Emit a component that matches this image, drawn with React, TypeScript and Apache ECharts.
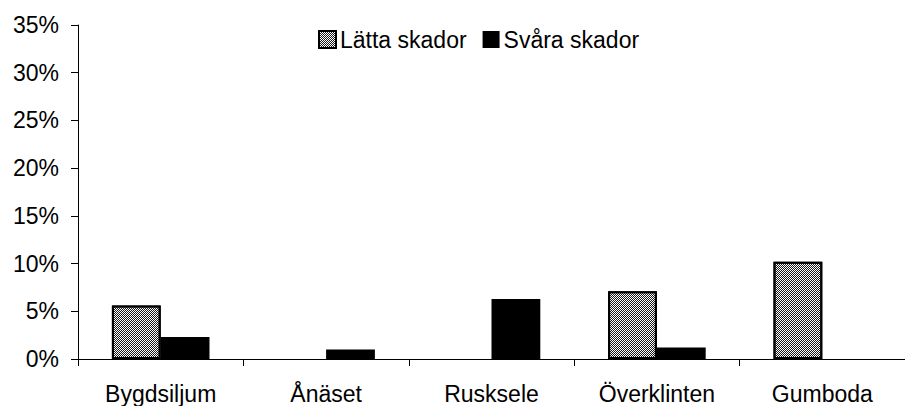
import React, { useEffect, useRef } from "react";
import * as echarts from "echarts";

const categories = ["Bygdsiljum", "Ånäset", "Rusksele", "Överklinten", "Gumboda"];
const seriesNames = ["Lätta skador", "Svåra skador"];
const lattaValues = [5.6, 0, 0, 7.1, 10.2];
const svaraValues = [2.3, 1.0, 6.3, 1.2, 0];
const yMax = 35;
const yInterval = 5;

const FONT = "'Liberation Sans', Arial, sans-serif";

export default function App() {
  const ref = useRef<HTMLDivElement>(null);
  useEffect(() => {
    if (!ref.current) return;
    const chart = echarts.init(ref.current, null, { renderer: "svg" });
    const decal = {
      symbol: "rect",
      symbolSize: 1,
      color: "#1a1a1a",
      dashArrayX: [[1, 1], [0, 1, 1, 0]],
      dashArrayY: [1, 0],
      rotation: 0,
    };
    chart.setOption({
      animation: false,
      backgroundColor: "#fff",
      textStyle: { fontFamily: FONT, color: "#000" },
      legend: {
        top: 23,
        left: 313,
        itemWidth: 17,
        itemHeight: 17,
        itemGap: 16,
        icon: "rect",
        textStyle: { fontFamily: FONT, fontSize: 23, color: "#000", padding: [0, 0, 0, -1] },
        data: seriesNames,
      },
      grid: { left: 78, top: 25, bottom: 47, right: -12, containLabel: false },
      xAxis: {
        type: "category",
        data: categories,
        boundaryGap: true,
        axisLine: { lineStyle: { color: "#000", width: 1 } },
        axisTick: { show: true, length: 7, lineStyle: { color: "#000" } },
        axisLabel: { color: "#000", fontFamily: FONT, fontSize: 23, margin: 23, interval: 0 },
      },
      yAxis: {
        type: "value",
        min: 0,
        max: yMax,
        interval: yInterval,
        axisLine: { show: true, lineStyle: { color: "#000", width: 1 } },
        axisTick: { show: true, length: 7, lineStyle: { color: "#000" } },
        splitLine: { show: false },
        axisLabel: { color: "#000", fontFamily: FONT, fontSize: 23, margin: 19, formatter: "{value}%" },
      },
      series: [
        {
          name: seriesNames[0],
          type: "bar",
          data: lattaValues.map((v) => ({ value: v, itemStyle: { borderWidth: v === 0 ? 0 : 2 } })),
          barGap: "0%",
          barCategoryGap: "41%",
          itemStyle: {
            color: "#ffffff",
            borderColor: "#000",
            borderWidth: 2,
            decal,
          },
        },
        {
          name: seriesNames[1],
          type: "bar",
          data: svaraValues,
          barGap: "0%",
          barCategoryGap: "41%",
          itemStyle: { color: "#000", borderWidth: 0 },
        },
      ],
    });
    return () => chart.dispose();
  }, []);
  return <div ref={ref} style={{ width: 905, height: 406, position: "absolute", left: 0, top: 0 }} />;
}
